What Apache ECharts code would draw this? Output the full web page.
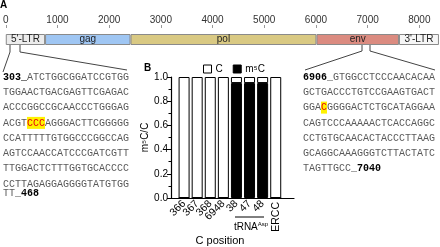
<!DOCTYPE html>
<html>
<head>
<meta charset="utf-8">
<script src="https://cdn.jsdelivr.net/npm/echarts@6/dist/echarts.min.js"></script>
<style>
html, body { margin: 0; padding: 0; background: #fff; }
#main { width: 440px; height: 247px; }
</style>
</head>
<body>
<div id="main"></div>
<script>
// panel A - genome map (bp)
const segNames = ["5'-LTR", "gag", "pol", "env", "3'-LTR"]
const segLengths = [760, 1653, 3597, 1596, 774]
const segColors = ["#ececec", "#9fc6f3", "#d9c983", "#db8b80", "#f6f6f6"]

// sequence excerpts ({b|..} = position, {hl|..} = methylated C)
const ltrRows = [
  "{b|303_}ATCTGGCGGATCCGTGG",
  "TGGAACTGACGAGTTCGAGAC",
  "ACCCGGCCGCAACCCTGGGAG",
  "ACGT{hl|CCC}AGGGACTTCGGGGG",
  "CCATTTTTGTGGCCCGGCCAG",
  "AGTCCAACCATCCCGATCGTT",
  "TTGGACTCTTTGGTGCACCCC",
  "CCTTAGAGGAGGGGTATGTGG",
]
const ltrTail = "TT_{b|468}"
const envRows = [
  "{b|6906}_GTGGCCTCCCAACACAA",
  "GCTGACCCTGTCCGAAGTGACT",
  "GGA{hl|C}GGGGACTCTGCATAGGAA",
  "CAGTCCCAAAAACTCACCAGGC",
  "CCTGTGCAACACTACCCTTAAG",
  "GCAGGCAAAGGGTCTTACTATC",
  "TAGTTGCC_{b|7040}",
]

// panel B - m5C fraction per C position
const positions = ["366", "367", "368", "6948", "38", "47", "48", "ERCC"]
const m5cFrac = [0, 0, 0, 0, 0.95, 0.95, 0.95, 0]
const cFrac = [1, 1, 1, 1, 0.05, 0.05, 0.05, 1]

const sans = "Liberation Sans, Arial, sans-serif"
const mono = "Liberation Mono, DejaVu Sans Mono, monospace"

const seqRich = {
  b: { fontFamily: mono, fontSize: 10, fontWeight: "bold", fill: "#000" },
  hl: { fontFamily: mono, fontSize: 10, fill: "#e8000b", backgroundColor: "#fff200", padding: [1, 0] },
}

function seqText(txt, x, y) {
  return {
    type: "text", x: x, y: y,
    style: {
      text: txt, fontFamily: mono, fontSize: 10, fill: "#5a5a5a",
      verticalAlign: "middle", rich: seqRich,
    },
  }
}

const graphics = []
ltrRows.forEach((r, i) => graphics.push(seqText(r, 3, 77 + i * 15.3)))
graphics.push(seqText(ltrTail, 3, 77 + 7 * 15.3 + 9))
envRows.forEach((r, i) => graphics.push(seqText(r, 303, 77 + i * 15.3)))

const lineStyle = { stroke: "#444", lineWidth: 1, fill: null }
const connectors = [
  [[10, 45], [10, 52], [3, 72]],
  [[20, 45], [20, 52], [127, 70]],
  [[362, 45], [362, 51], [305, 70]],
  [[370, 45], [370, 51], [435, 70]],
]
connectors.forEach(p => graphics.push({ type: "polyline", shape: { points: p }, style: lineStyle }))

graphics.push(
  { type: "text", x: 0, y: 5, style: { text: "A", fontFamily: sans, fontSize: 10, fontWeight: "bold", fill: "#000", verticalAlign: "middle" } },
  { type: "text", x: 144, y: 68, style: { text: "B", fontFamily: sans, fontSize: 10, fontWeight: "bold", fill: "#000", verticalAlign: "middle" } },
  { type: "line", shape: { x1: 235, y1: 217, x2: 264, y2: 217 }, style: { stroke: "#000", lineWidth: 1 } },
  {
    type: "text", x: 251, y: 227,
    style: {
      text: "tRNA{s|Asp}", fontFamily: sans, fontSize: 10, fill: "#000",
      align: "center", verticalAlign: "middle",
      rich: { s: { fontFamily: sans, fontSize: 6, fill: "#000", verticalAlign: "top", padding: [0, 0, 5, 0] } },
    },
  },
  { type: "text", x: 220, y: 241, style: { text: "C position", fontFamily: sans, fontSize: 11, fill: "#000", align: "center", verticalAlign: "middle" } }
)

const chart = echarts.init(document.getElementById("main"))

const genomeSeries = segNames.map((n, i) => ({
  name: n,
  type: "bar",
  stack: "genome",
  xAxisIndex: 0,
  yAxisIndex: 0,
  barWidth: 11,
  data: [segLengths[i]],
  itemStyle: { color: segColors[i], borderColor: "#8a8a8a", borderWidth: 1 },
  label: { show: true, position: "inside", formatter: n, fontFamily: sans, fontSize: 10, color: "#222" },
  silent: true,
}))

// bar pitch of panel B (px) - the bars sit on their own category grid
const pitch = 13.09

chart.setOption({
  animation: false,
  textStyle: { fontFamily: sans },
  grid: [
    { left: 3.5, width: 436.8, top: 28, height: 23 },
    { left: 171, width: 123, top: 77, height: 121 },
    { left: 171 + pitch / 2, width: pitch * 8, top: 77, height: 121 },
  ],
  legend: {
    data: ["C", "m⁵C"],
    left: 203, top: 64, padding: 0,
    itemWidth: 8, itemHeight: 8, itemGap: 10,
    icon: "rect",
    itemStyle: { borderWidth: 1, borderColor: "#000" },
    textStyle: { fontFamily: sans, fontSize: 10, color: "#000", padding: [0, 0, 0, -1] },
    selectedMode: false,
  },
  xAxis: [
    {
      type: "value", gridIndex: 0, position: "top",
      min: 0, max: 8400, interval: 1000,
      axisLine: { lineStyle: { color: "#999", width: 2 } },
      axisTick: { show: true, length: 3, lineStyle: { color: "#999" } },
      splitLine: { show: false },
      axisLabel: {
        margin: 3, fontSize: 10, color: "#333", showMaxLabel: false,
        formatter: v => (v % 1000 === 0 ? String(v) : ""),
      },
    },
    {
      type: "value", gridIndex: 1, position: "bottom",
      min: 0, max: 9.4, interval: 1,
      axisLine: { lineStyle: { color: "#000", width: 1.2 } },
      axisTick: { show: false },
      splitLine: { show: false },
      axisLabel: {
        rotate: 45, margin: 4, fontSize: 10.5, color: "#000", showMaxLabel: false,
        formatter: v => (v >= 1 && v <= 7 && v % 1 === 0 ? positions[v - 1] : ""),
      },
    },
    {
      type: "value", gridIndex: 1, position: "bottom",
      min: 0, max: 9.4, interval: 1,
      axisLine: { show: false },
      axisTick: { show: false },
      splitLine: { show: false },
      axisLabel: {
        rotate: 90, margin: 4, fontSize: 10.5, color: "#000", showMaxLabel: false,
        formatter: v => (v === 8 ? positions[7] : ""),
      },
    },
    { type: "category", gridIndex: 2, data: positions, show: false },
  ],
  yAxis: [
    { type: "category", gridIndex: 0, data: ["genome"], show: false },
    {
      type: "value", gridIndex: 1, min: 0, max: 1, interval: 0.2,
      name: "m⁵C/C", nameLocation: "middle", nameGap: 18,
      nameTextStyle: { fontFamily: sans, fontSize: 10, color: "#000" },
      axisLine: { show: true, lineStyle: { color: "#000", width: 1.2 } },
      axisTick: { show: true, length: 4, lineStyle: { color: "#000" } },
      minorTick: { show: true, splitNumber: 2, length: 2.5, lineStyle: { color: "#000" } },
      splitLine: { show: false },
      axisLabel: { margin: 3, fontSize: 10, color: "#000", formatter: v => v.toFixed(1) },
    },
    { type: "value", gridIndex: 2, min: 0, max: 1, show: false },
  ],
  series: genomeSeries.concat([
    {
      name: "m⁵C", type: "bar", stack: "frac", xAxisIndex: 3, yAxisIndex: 2,
      barWidth: 11,
      data: m5cFrac,
      itemStyle: { color: "#000", borderColor: "#000", borderWidth: 1 },
    },
    {
      name: "C", type: "bar", stack: "frac", xAxisIndex: 3, yAxisIndex: 2,
      barWidth: 11,
      data: cFrac,
      itemStyle: { color: "#fff", borderColor: "#000", borderWidth: 1 },
    },
  ]),
  graphic: graphics,
})
</script>
</body>
</html>
